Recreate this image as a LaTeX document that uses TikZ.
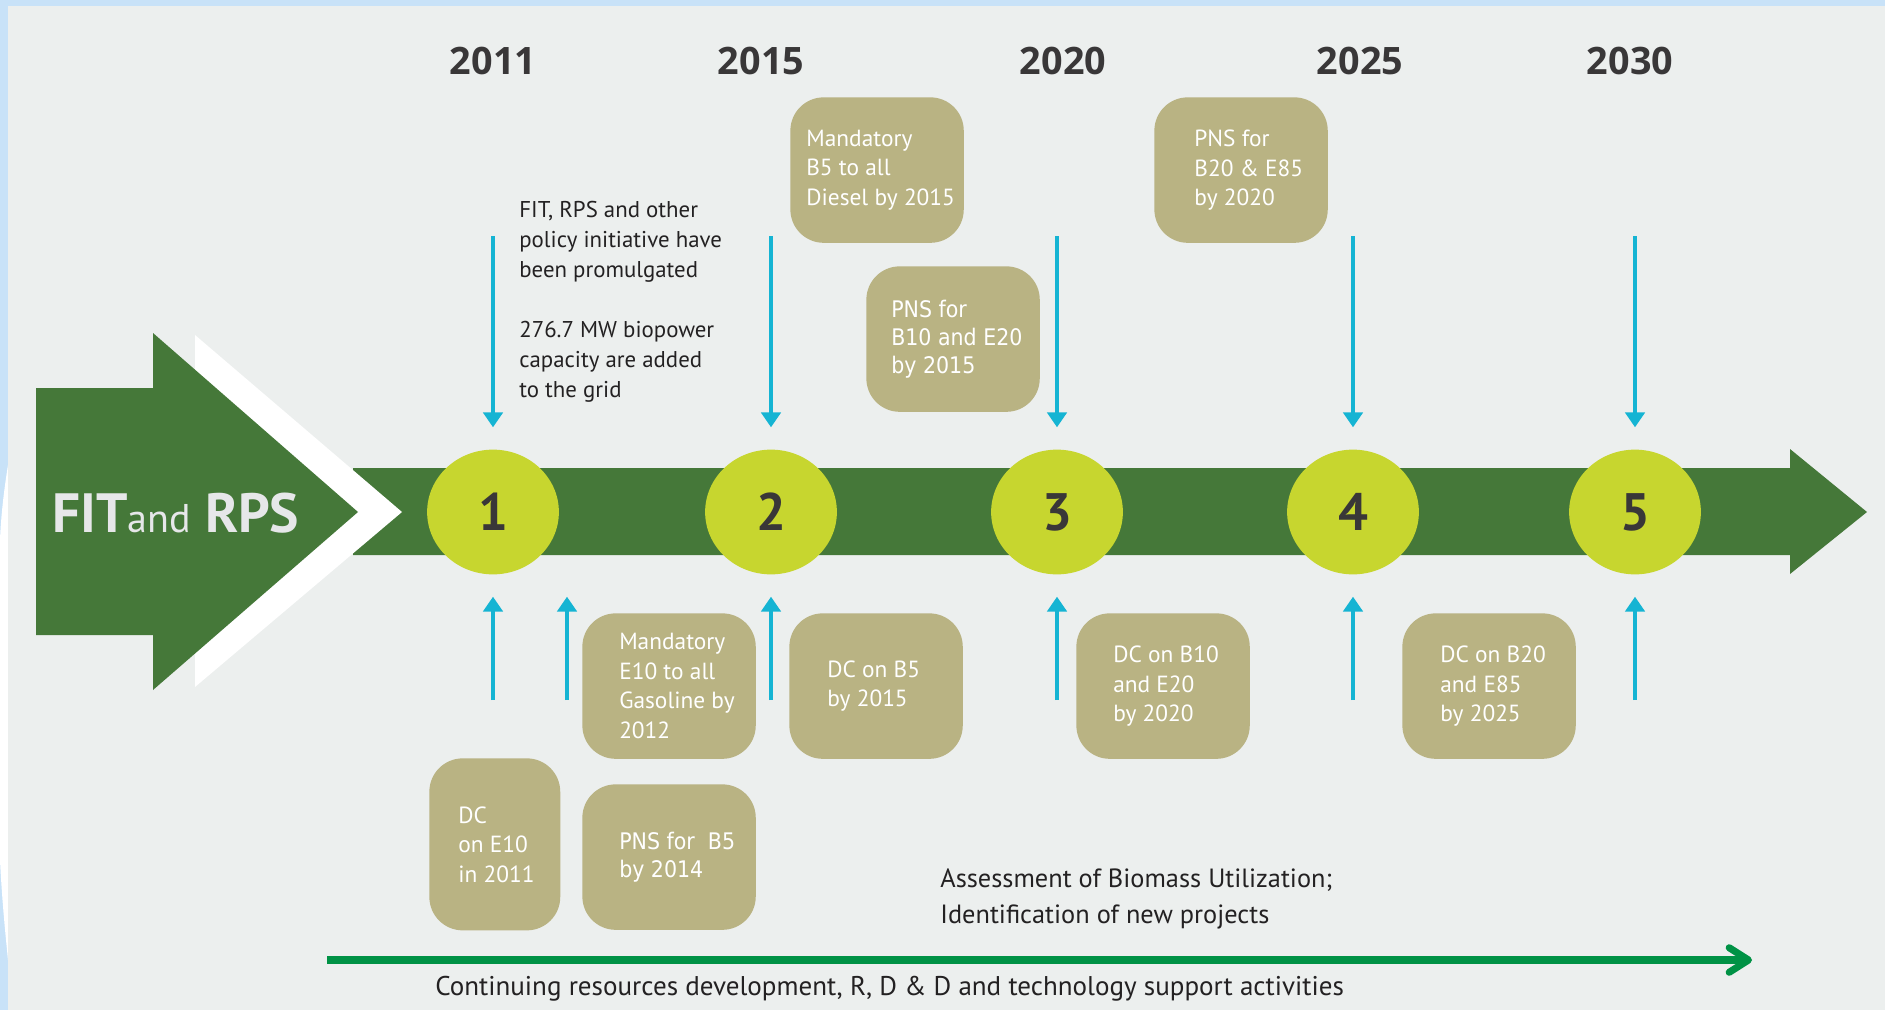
\documentclass[tikz,border=0pt]{standalone}
\usepackage{fontspec}
\setmainfont{PT Sans}
\newfontfamily\yearfont{Open Sans}
\newfontfamily\pnsfont{DejaVu Sans}[FakeStretch=0.9]
\usepackage{xcolor}
\usetikzlibrary{arrows.meta, positioning, shapes.geometric}
\definecolor{framebl}{RGB}{200,226,248}
\definecolor{slidegray}{RGB}{236,239,238}
\definecolor{bandgreen}{RGB}{69,120,57}
\definecolor{limeball}{RGB}{199,214,47}
\definecolor{boxtan}{RGB}{185,179,131}
\definecolor{tipcyan}{RGB}{21,180,211}
\definecolor{rdgreen}{RGB}{0,146,69}
\definecolor{inkdark}{RGB}{35,33,34}
\definecolor{fitwhite}{RGB}{230,231,233}
\tikzset{
  yearlabel/.style={font=\yearfont\bfseries\fontsize{21.5}{21.5}\selectfont, text=inkdark!90, inner sep=0pt},
  stepball/.style={ellipse, fill=limeball, minimum width=75pt, minimum height=71pt, inner sep=0pt, font=\bfseries\fontsize{30}{30}\selectfont, text=inkdark!90},
  fittext/.style={font=\bfseries\fontsize{31.5}{31.5}\selectfont, text=fitwhite, inner sep=0pt},
  tanbox/.style={fill=boxtan, rounded corners=19pt, minimum width=98.7pt, minimum height=82.8pt, anchor=north west, inner sep=0pt},
  boxtext/.style={text=white, align=left, inner sep=0pt, font=\fontsize{13.3}{16.8}\selectfont},
  pnstext/.style={boxtext, font=\pnsfont\fontsize{13}{15.8}\selectfont},
  notetext/.style={text=inkdark, align=left, inner sep=0pt, font=\fontsize{13}{17}\selectfont},
  cyanarrow/.style={tipcyan, line width=2.3pt, -{Triangle[width=11pt,length=8.5pt]}, shorten >=12.5pt},
}
\begin{document}
\begin{tikzpicture}[x=0.02cm, y=-0.02cm]
  \useasboundingbox (0,0) rectangle (1885,1010);
  % Slide background
  \fill[framebl] (0,0) rectangle (1885,1010);
  \fill[white] (8,465) .. controls (4,490) and (1,515) .. (0,540) -- (0,860) .. controls (2,900) and (5,930) .. (8,960) -- cycle;
  \fill[slidegray] (8,6) rectangle (1885,1010);
  % Timeline band
  \fill[bandgreen] (353,468) -- (1790,468) -- (1790,449) -- (1867,512) -- (1790,574) -- (1790,555) -- (353,555) -- cycle;
  % FIT and RPS arrow
  \fill[white] (195,335) -- (402,512) -- (195,687) -- cycle;
  \fill[bandgreen] (36,388) -- (153,388) -- (153,333) -- (358,512) -- (153,690) -- (153,635) -- (36,635) -- cycle;
  \node[fittext, anchor=base west] (fitrps) at (52,532) {FIT{\mdseries\fontsize{22.8}{22.8}\selectfont and} RPS};
  % Years and steps
  \foreach \yr/\x in {2011/493, 2015/761, 2020/1063, 2025/1360, 2030/1630}
    \node[yearlabel] (y\yr) at (\x,61) {\yr};
  \foreach \n/\x in {1/493, 2/771, 3/1057, 4/1353, 5/1635}
    \node[stepball] (c\n) at (\x,512) {\n};
  % Arrows into the steps
  \foreach \n/\x in {1/493, 2/771, 3/1057, 4/1353, 5/1635} {
    \coordinate (d\n) at (\x,236);
    \coordinate (u\n) at (\x,700);
    \draw[cyanarrow] (d\n) -- (c\n);
    \draw[cyanarrow] (u\n) -- (c\n);
  }
  \coordinate (u1b) at (567,700);
  \draw[cyanarrow] (u1b) -- (u1b |- c1.south);
  % Boxes above the band
  \node[tanbox] (bxB5D) at (790,97) {};
  \node[boxtext, right=9.1pt of bxB5D.west] (txB5D) {Mandatory\\B5 to all\\Diesel by 2015};
  \node[tanbox] (bxPNSa) at (866,266) {};
  \node[pnstext, right=14.2pt of bxPNSa.west] (txPNSa) {PNS for\\B10 and E20\\by 2015};
  \node[tanbox] (bxPNSb) at (1154,97) {};
  \node[boxtext, right=22.8pt of bxPNSb.west] (txPNSb) {PNS for\\B20 \& E85\\by 2020};
  % Boxes below the band
  \node[tanbox] (bxE10M) at (582,613) {};
  \node[boxtext, right=21pt of bxE10M.west] (txE10M) {Mandatory\\E10 to all\\Gasoline by\\2012};
  \node[tanbox] (bxDCa) at (789,613) {};
  \node[boxtext, right=21.6pt of bxDCa.west] (txDCa) {DC on B5\\by 2015};
  \node[tanbox] (bxDCb) at (1076,613) {};
  \node[boxtext, right=21pt of bxDCb.west] (txDCb) {DC on B10\\and E20\\by 2020};
  \node[tanbox] (bxDCc) at (1402,613) {};
  \node[boxtext, right=21.6pt of bxDCc.west] (txDCc) {DC on B20\\and E85\\by 2025};
  \node[tanbox, minimum width=74.5pt, minimum height=97.9pt] (bxDCE) at (429,758) {};
  \node[boxtext, right=16.5pt of bxDCE.west] (txDCE) {DC\\on E10\\in 2011};
  \node[tanbox] (bxPNSc) at (582,784) {};
  \node[pnstext, right=21pt of bxPNSc.west] (txPNSc) {PNS for~ B5\\by 2014};
  % Notes
  \node[notetext, anchor=base west] (policy) at (519,397) {FIT, RPS and other\\policy initiative have\\been promulgated\\[17pt]276.7 MW biopower\\capacity are added\\to the grid};
  \node[notetext, font=\fontsize{15}{20}\selectfont, anchor=base west] (assess) at (940,923) {Assessment of Biomass Utilization;\\Identification of new projects};
  % R, D & D line
  \coordinate (rdA) at (327,960);
  \coordinate (rdB) at (1752,960);
  \draw[rdgreen, line width=4pt, -{Straight Barb[length=11pt,width=14pt,round]}] (rdA) -- (rdB);
  \node[notetext, font=\fontsize{15.4}{20}\selectfont, anchor=base west] (rdd) at (435,995) {Continuing resources development, R, D \& D and technology support activities};
\end{tikzpicture}
\end{document}
